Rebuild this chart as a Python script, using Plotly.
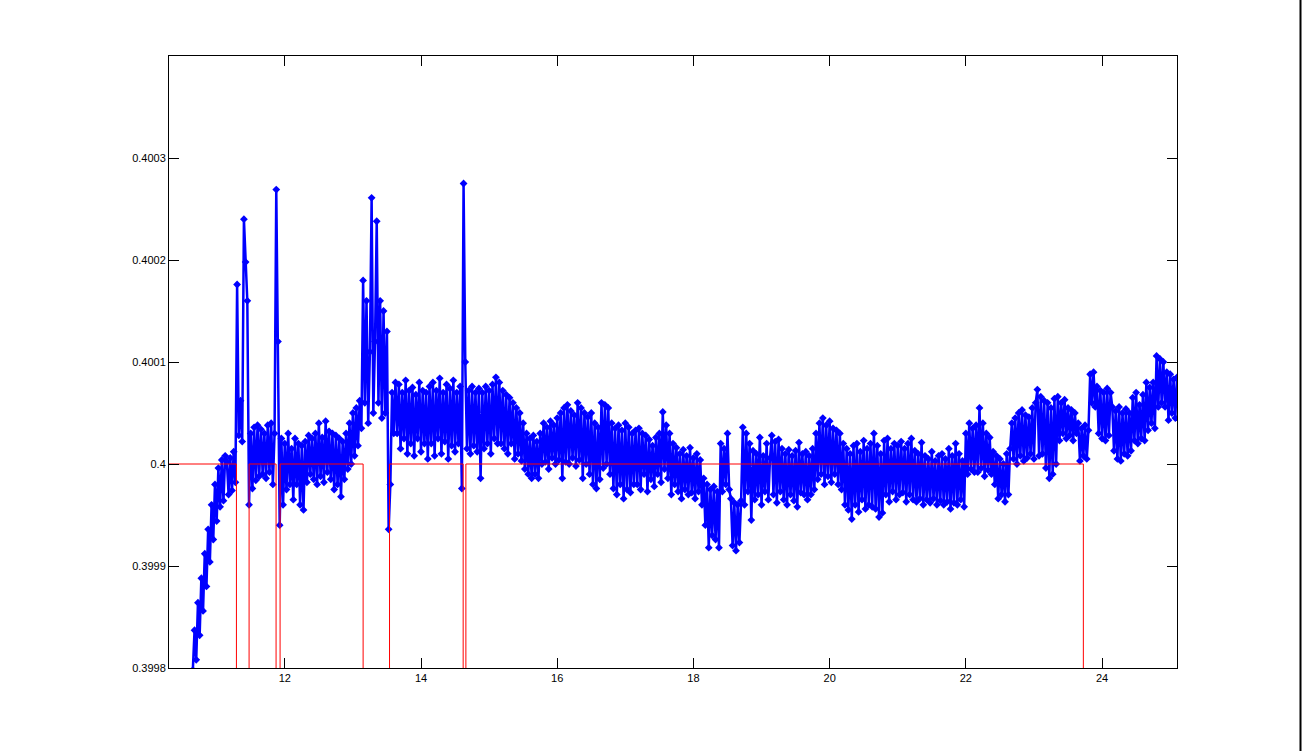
import plotly.graph_objects as go

# ---- blue series: samples every 0.025 s starting at 10.65; values are offsets from 0.4 in units of 1e-6
t_start = 10.65
t_step = 0.025
offsets_1e6 = [
    -202, -163, -192, -136, -168, -112, -144, -88, -120, -64, -96, -40, -74, -20, -56, -4, -42, 4, -36, 8,
    2, -30, 6, -26, 12, -18, 176, 28, 62, 22, 240, 198, 160, -40, 30, -24, 36, -16, 38, -12,
    34, -10, 30, -14, 38, -8, 40, -20, 30, 269, 120, -60, 25, -40, 20, -25, 30, -20, 15, -35,
    25, -20, 20, -40, 18, -45, 22, -18, 28, -10, 25, -15, 30, -20, 40, -12, 26, -18, 42, -8,
    32, -15, 30, -25, 28, -20, 25, -32, 22, -15, 30, -5, 40, 0, 50, 8, 55, 18, 62, 35,
    180, 60, 160, 40, 110, 261, 50, 120, 238, 60, 160, 45, 150, 50, 130, -64, -20, 70, 30, 80,
    30, 78, 15, 70, 25, 82, 10, 72, 20, 75, 8, 68, 25, 80, 12, 72, 20, 70, 5, 76,
    20, 80, 8, 72, 25, 84, 10, 70, 22, 78, 5, 74, 18, 82, 12, 70, 20, 76, -24, 275,
    100, 15, 72, 10, 76, 18, 70, 12, 74, -14, 70, 15, 76, 20, 72, 10, 78, 25, 85, 20,
    80, 20, 72, 15, 68, 10, 65, 20, 60, 5, 55, 10, 50, 3, 40, -5, 30, -10, 25, -14,
    28, -10, 22, -14, 30, 0, 40, 2, 36, -5, 42, 6, 38, 0, 45, 4, 50, -14, 55, 2,
    58, 0, 52, 6, 48, -2, 60, 4, 55, -14, 50, 0, 46, -10, 50, -20, 40, -24, 36, -15,
    60, -4, 58, 0, 55, -10, 40, -24, 35, -30, 38, -20, 33, -34, 40, -25, 36, -28, 30, -20,
    33, -20, 35, -25, 30, -10, 28, -27, 24, -15, 18, -22, 26, -10, 30, -18, 51, -5, 38, -14,
    30, -30, 20, -20, 16, -27, 10, -34, 14, -25, 8, -30, 16, -28, 6, -34, 10, -27, 4, -40,
    -14, -60, -20, -82, -25, -70, -22, -74, -27, -82, 20, -27, 15, -20, 30, -25, -34, -80, -38, -85,
    -40, -77, -36, 36, -40, 30, -27, 20, -55, 13, -35, 10, -30, 26, -40, 8, -27, 20, -35, 6,
    28, -30, 22, -38, 24, -27, 15, -35, 10, -40, 14, -30, 8, -36, 13, -42, 21, -28, 10, -30,
    12, -35, 8, -30, 15, -25, 30, -15, 40, -10, 45, -20, 38, -12, 42, -18, 35, -10, 33, -20,
    30, -25, 20, -40, 15, -45, 10, -54, 18, -40, 20, -47, 12, -35, 23, -44, 15, -40, 20, -42,
    30, -44, 18, -52, 10, -48, 23, -30, 25, -37, 15, -27, 20, -35, 18, -30, 22, -28, 15, -37,
    20, -30, 25, -35, 13, -37, 10, -34, 21, -40, 8, -35, 5, -38, 12, -34, 3, -40, 8, -36,
    10, -40, 5, -37, 15, -44, 8, -38, 20, -40, 10, -35, 3, -42, 30, -10, 40, -5, 35, -8,
    38, -8, 55, -4, 40, -12, 30, -6, 26, -10, 12, -20, 8, -34, 5, -30, 0, -37, 10, -30,
    15, 40, 5, 45, 0, 50, 8, 53, 3, 48, 6, 46, 10, 55, 5, 60, 73, 8, 66, 10,
    62, -4, 60, -14, 55, -10, 64, 0, 66, 23, 60, 30, 63, 25, 55, 28, 53, 23, 50, 30,
    40, 3, 35, 8, 38, 5, 33, 88, 60, 90, 56, 76, 30, 72, 25, 70, 23, 74, 28, 70,
    56, 13, 52, 5, 56, 3, 50, 10, 54, 8, 50, 13, 65, 23, 70, 20, 58, 25, 68, 23,
    80, 33, 75, 40, 80, 35, 106, 56, 103, 60, 100, 56, 90, 43, 88, 50, 83, 45, 85,
]
base_level = 0.4

# ---- red reference step signal (on = 0.4, off = 0)
red_x = [10.0, 11.29, 11.29, 11.476, 11.476, 11.872, 11.872, 11.931, 11.931,
         13.150, 13.150, 13.538, 13.538, 14.619, 14.619, 14.659, 14.659,
         23.725, 23.725, 25.2]
red_y = [0.4, 0.4, 0.0, 0.0, 0.4, 0.4, 0.0, 0.0, 0.4,
         0.4, 0.0, 0.0, 0.4, 0.4, 0.0, 0.0, 0.4,
         0.4, 0.0, 0.0]

x_ticks = [12, 14, 16, 18, 20, 22, 24]
y_ticks = [0.3998, 0.3999, 0.4, 0.4001, 0.4002, 0.4003]
y_ticktext = ["0.3998", "0.3999", "0.4", "0.4001", "0.4002", "0.4003"]

blue_x = [t_start + i * t_step for i in range(len(offsets_1e6))]
blue_y = [base_level + v * 1e-6 for v in offsets_1e6]

fig = go.Figure()
fig.add_trace(go.Scatter(
    x=blue_x, y=blue_y, mode="lines+markers",
    line=dict(color="rgb(0,0,255)", width=2.5),
    marker=dict(color="rgb(0,0,255)", size=6, symbol="diamond", line=dict(width=0)),
    showlegend=False, hoverinfo="skip",
))
fig.add_trace(go.Scatter(
    x=red_x, y=red_y, mode="lines",
    line=dict(color="rgb(255,0,0)", width=1),
    showlegend=False, hoverinfo="skip",
))

axis_font = dict(family="Liberation Sans, Arial, sans-serif", size=11, color="black")
fig.update_layout(
    width=1302, height=751,
    margin=dict(l=169, r=125, t=56, b=83),
    paper_bgcolor="white", plot_bgcolor="white",
    showlegend=False,
    xaxis=dict(
        range=[10.3, 25.1], tickmode="array", tickvals=x_ticks,
        ticktext=[str(v) for v in x_ticks],
        ticks="inside", ticklen=10, tickwidth=1, tickcolor="black",
        showline=True, linecolor="black", linewidth=1, mirror="ticks",
        showgrid=False, zeroline=False, tickfont=axis_font,
    ),
    yaxis=dict(
        range=[0.3998, 0.4004], tickmode="array", tickvals=y_ticks,
        ticktext=y_ticktext,
        ticks="inside", ticklen=10, tickwidth=1, tickcolor="black",
        showline=True, linecolor="black", linewidth=1, mirror="ticks",
        showgrid=False, zeroline=False, tickfont=axis_font,
    ),
    shapes=[dict(type="line", xref="paper", yref="paper",
                 x0=(1300.5 - 169) / 1008, x1=(1300.5 - 169) / 1008,
                 y0=-0.2, y1=1.2, line=dict(color="black", width=2))],
)

# remove the default page margin so the 1302x751 figure fills the window exactly
fig.write_html(
    "out.html",
    config={"displayModeBar": False},
    post_script="document.body.style.margin='0';document.body.style.overflow='hidden';",
)
